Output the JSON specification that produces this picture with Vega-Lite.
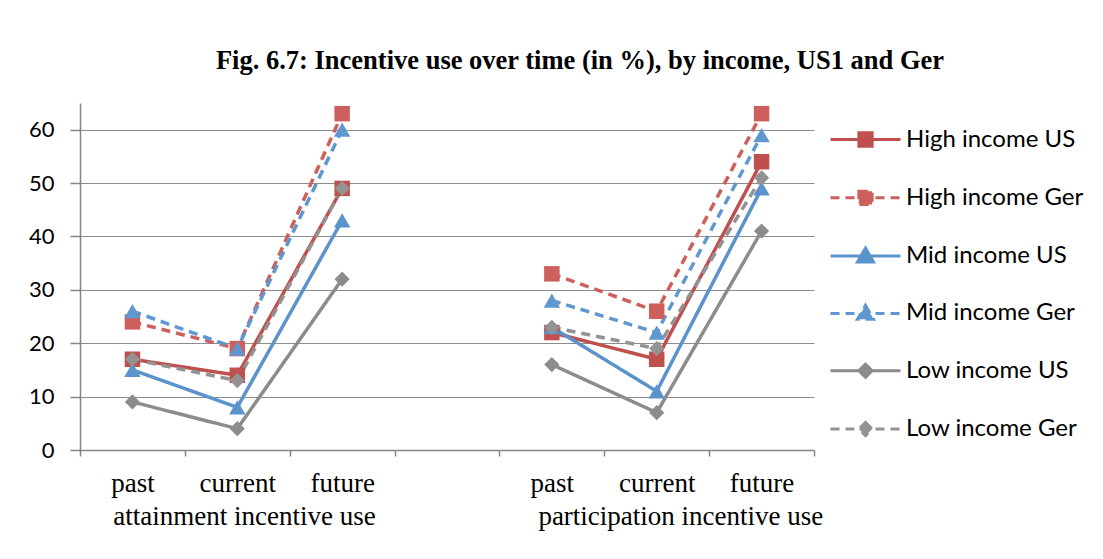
{
  "$schema": "https://vega.github.io/schema/vega-lite/v6.json",
  "width": 734,
  "height": 347,
  "autosize": {"type": "none"},
  "padding": {"left": 80, "top": 103, "right": 289, "bottom": 109},
  "background": "white",
  "title": {
    "text": "Fig. 6.7: Incentive use over time (in %), by income, US1 and Ger",
    "anchor": "middle",
    "frame": "group",
    "dx": 133,
    "offset": 29,
    "font": "Liberation Serif",
    "fontSize": 26.5,
    "fontWeight": "bold",
    "color": "black"
  },
  "config": {
    "view": {"stroke": null},
    "legend": {"symbolOpacity": 1}
  },
  "data": {
    "values": [
      {"series": "High income US", "income": "High", "group": "a", "slot": "past|a", "value": 17},
      {"series": "High income US", "income": "High", "group": "a", "slot": "current|a", "value": 14},
      {"series": "High income US", "income": "High", "group": "a", "slot": "future|a", "value": 49},
      {"series": "High income US", "income": "High", "group": "p", "slot": "past|p", "value": 22},
      {"series": "High income US", "income": "High", "group": "p", "slot": "current|p", "value": 17},
      {"series": "High income US", "income": "High", "group": "p", "slot": "future|p", "value": 54},
      {"series": "High income Ger", "income": "High", "group": "a", "slot": "past|a", "value": 24},
      {"series": "High income Ger", "income": "High", "group": "a", "slot": "current|a", "value": 19},
      {"series": "High income Ger", "income": "High", "group": "a", "slot": "future|a", "value": 63},
      {"series": "High income Ger", "income": "High", "group": "p", "slot": "past|p", "value": 33},
      {"series": "High income Ger", "income": "High", "group": "p", "slot": "current|p", "value": 26},
      {"series": "High income Ger", "income": "High", "group": "p", "slot": "future|p", "value": 63},
      {"series": "Mid income US", "income": "Mid", "group": "a", "slot": "past|a", "value": 15},
      {"series": "Mid income US", "income": "Mid", "group": "a", "slot": "current|a", "value": 8},
      {"series": "Mid income US", "income": "Mid", "group": "a", "slot": "future|a", "value": 43},
      {"series": "Mid income US", "income": "Mid", "group": "p", "slot": "past|p", "value": 23},
      {"series": "Mid income US", "income": "Mid", "group": "p", "slot": "current|p", "value": 11},
      {"series": "Mid income US", "income": "Mid", "group": "p", "slot": "future|p", "value": 49},
      {"series": "Mid income Ger", "income": "Mid", "group": "a", "slot": "past|a", "value": 26},
      {"series": "Mid income Ger", "income": "Mid", "group": "a", "slot": "current|a", "value": 19},
      {"series": "Mid income Ger", "income": "Mid", "group": "a", "slot": "future|a", "value": 60},
      {"series": "Mid income Ger", "income": "Mid", "group": "p", "slot": "past|p", "value": 28},
      {"series": "Mid income Ger", "income": "Mid", "group": "p", "slot": "current|p", "value": 22},
      {"series": "Mid income Ger", "income": "Mid", "group": "p", "slot": "future|p", "value": 59},
      {"series": "Low income US", "income": "Low", "group": "a", "slot": "past|a", "value": 9},
      {"series": "Low income US", "income": "Low", "group": "a", "slot": "current|a", "value": 4},
      {"series": "Low income US", "income": "Low", "group": "a", "slot": "future|a", "value": 32},
      {"series": "Low income US", "income": "Low", "group": "p", "slot": "past|p", "value": 16},
      {"series": "Low income US", "income": "Low", "group": "p", "slot": "current|p", "value": 7},
      {"series": "Low income US", "income": "Low", "group": "p", "slot": "future|p", "value": 41},
      {"series": "Low income Ger", "income": "Low", "group": "a", "slot": "past|a", "value": 17},
      {"series": "Low income Ger", "income": "Low", "group": "a", "slot": "current|a", "value": 13},
      {"series": "Low income Ger", "income": "Low", "group": "a", "slot": "future|a", "value": 49},
      {"series": "Low income Ger", "income": "Low", "group": "p", "slot": "past|p", "value": 23},
      {"series": "Low income Ger", "income": "Low", "group": "p", "slot": "current|p", "value": 19},
      {"series": "Low income Ger", "income": "Low", "group": "p", "slot": "future|p", "value": 51}
    ]
  },
  "encoding": {
    "x": {
      "field": "slot",
      "type": "nominal",
      "sort": null,
      "scale": {
        "domain": ["past|a", "current|a", "future|a", "gap", "past|p", "current|p", "future|p"],
        "paddingInner": 0,
        "paddingOuter": 0
      },
      "axis": {
        "title": null,
        "labelExpr": "datum.value == null || datum.value == 'gap' ? '' : datum.value == 'current|a' ? ['current', '\u200b\u00a0\u00a0attainment incentive use'] : datum.value == 'current|p' ? ['current', '\u200b\u00a0\u00a0\u00a0\u00a0\u00a0\u00a0\u00a0participation incentive use'] : split(datum.value, '|')[0]",
        "tickBand": "extent",
        "labelAngle": 0,
        "labelFont": "Liberation Serif",
        "labelFontSize": 27,
        "labelColor": "black",
        "labelPadding": 14,
        "labelLineHeight": 33,
        "labelLimit": 0,
        "labelOverlap": false,
        "labelBound": false,
        "domainColor": "#868686",
        "domainWidth": 1.5,
        "tickColor": "#868686",
        "tickWidth": 1.5,
        "tickSize": 6,
        "grid": false
      }
    },
    "y": {
      "field": "value",
      "type": "quantitative",
      "scale": {"domain": [0, 65], "nice": false, "zero": true},
      "axis": {
        "title": null,
        "values": [0, 10, 20, 30, 40, 50, 60],
        "labelFont": "Lato",
        "labelFontSize": 22,
        "labelColor": "black",
        "labelPadding": 16,
        "tickSize": 10,
        "tickColor": "#868686",
        "tickWidth": 1.5,
        "domainColor": "#868686",
        "domainWidth": 1.5,
        "grid": true,
        "gridColor": "#8c8c8c",
        "gridWidth": 1
      }
    }
  },
  "layer": [
    {
      "mark": {"type": "line", "strokeWidth": 3.5},
      "encoding": {
        "color": {
          "field": "series",
          "type": "nominal",
          "scale": {
            "domain": ["High income US", "High income Ger", "Mid income US", "Mid income Ger", "Low income US", "Low income Ger"],
            "range": ["#C0504D", "#CD605C", "#5B94CC", "#5F98CF", "#8C8C8C", "#939393"]
          },
          "legend": {
            "title": null,
            "orient": "none",
            "legendX": 749,
            "legendY": 0,
            "padding": 0,
            "symbolSize": 4900,
            "symbolStrokeWidth": 3,
            "labelFont": "Lato",
            "labelFontSize": 24,
            "labelColor": "black",
            "labelOffset": 4,
            "rowPadding": 8.3,
            "labelLimit": 0
          }
        },
        "strokeDash": {
          "field": "series",
          "type": "nominal",
          "scale": {
            "domain": ["High income US", "High income Ger", "Mid income US", "Mid income Ger", "Low income US", "Low income Ger"],
            "range": [[1, 0], [9, 6], [1, 0], [9, 6], [1, 0], [9, 6]]
          }
        },
        "detail": {"field": "group", "type": "nominal"}
      }
    },
    {
      "transform": [{"filter": "datum.income == 'High'"}],
      "mark": {"type": "point", "shape": "square", "filled": true, "opacity": 1, "size": 240},
      "encoding": {"color": {"field": "series", "type": "nominal"}}
    },
    {
      "transform": [{"filter": "datum.income == 'Mid'"}],
      "mark": {"type": "point", "shape": "triangle-up", "filled": true, "opacity": 1, "size": 270},
      "encoding": {"color": {"field": "series", "type": "nominal"}}
    },
    {
      "transform": [{"filter": "datum.income == 'Low'"}],
      "mark": {"type": "point", "shape": "diamond", "filled": true, "opacity": 1, "size": 230},
      "encoding": {"color": {"field": "series", "type": "nominal"}}
    },
    {
      "transform": [{"filter": "datum.value < 0"}],
      "mark": {"type": "point", "filled": true, "opacity": 1, "strokeWidth": 3},
      "encoding": {
        "color": {"field": "series", "type": "nominal"},
        "stroke": {
          "field": "series",
          "type": "nominal",
          "scale": {
            "domain": ["High income US", "High income Ger", "Mid income US", "Mid income Ger", "Low income US", "Low income Ger"],
            "range": ["#C0504D", "#CD605C", "#5B94CC", "#5F98CF", "#8C8C8C", "#939393"]
          }
        },
        "shape": {
          "field": "series",
          "type": "nominal",
          "scale": {
            "domain": ["High income US", "High income Ger", "Mid income US", "Mid income Ger", "Low income US", "Low income Ger"],
            "range": [
              "M-1,0H1M-0.19,-0.19H0.19V0.19H-0.19Z",
              "M-1,0H1M-0.19,-0.19H0.19V0.19H-0.19Z",
              "M-1,0H1M0,-0.23L0.23,0.17H-0.23Z",
              "M-1,0H1M0,-0.23L0.23,0.17H-0.23Z",
              "M-1,0H1M0,-0.19L0.19,0L0,0.19L-0.19,0Z",
              "M-1,0H1M0,-0.19L0.19,0L0,0.19L-0.19,0Z"
            ]
          }
        }
      }
    }
  ]
}
